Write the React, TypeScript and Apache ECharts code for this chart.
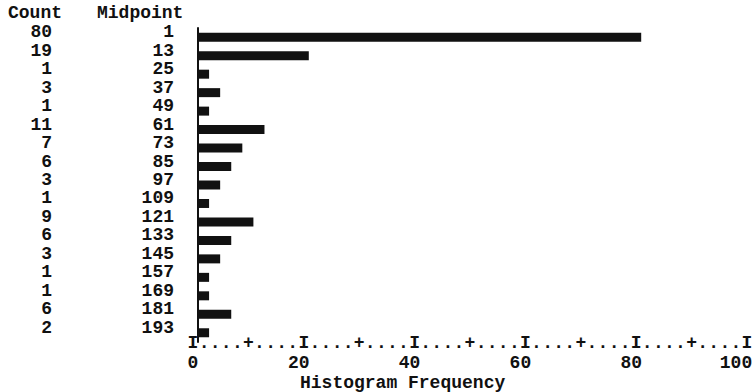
import React, { useEffect, useRef } from "react";
import * as echarts from "echarts";

const midpoints = [1, 13, 25, 37, 49, 61, 73, 85, 97, 109, 121, 133, 145, 157, 169, 181, 193];
const counts = [80, 19, 1, 3, 1, 11, 7, 6, 3, 1, 9, 6, 3, 1, 1, 6, 2];
const frequencyTicks = [0, 20, 40, 60, 80, 100];
const countHeader = "Count";
const midpointHeader = "Midpoint";
const axisTitle = "Histogram Frequency";

// In the text histogram each character cell stands for two counts (rounded up).
const barCells = counts.map((c) => Math.ceil(c / 2) * 2);

const FONT = '"Liberation Mono", "DejaVu Sans Mono", monospace';
const INK = "#111111";
const baseText = { fontFamily: FONT, fontSize: 18, fontWeight: "bold" as const, color: INK };

export default function App() {
  const ref = useRef<HTMLDivElement>(null);
  useEffect(() => {
    if (!ref.current) return;
    const chart = echarts.init(ref.current, null, { renderer: "svg" });
    const tickMax = frequencyTicks[frequencyTicks.length - 1];
    const hiddenAxis = {
      axisLine: { show: false },
      axisTick: { show: false },
      splitLine: { show: false },
    };
    chart.setOption({
      animation: false,
      backgroundColor: "#ffffff",
      grid: [
        // bars
        { left: 198, right: 2, top: 28, bottom: 50, containLabel: false, outerBoundsMode: "none" },
        // character scale line under the bars
        { left: 193, right: 7, top: 28, bottom: 50, containLabel: false, outerBoundsMode: "none" },
      ],
      xAxis: [
        {
          type: "value",
          gridIndex: 0,
          position: "bottom",
          min: frequencyTicks[0],
          max: tickMax,
          ...hiddenAxis,
          axisLabel: { show: false },
        },
        {
          type: "value",
          gridIndex: 1,
          position: "bottom",
          min: frequencyTicks[0],
          max: tickMax,
          interval: 2,
          ...hiddenAxis,
          axisLabel: {
            ...baseText,
            lineHeight: 14,
            margin: 1,
            verticalAlign: "middle",
            showMinLabel: true,
            showMaxLabel: true,
            formatter: (v: number) => (v % 20 === 0 ? "I" : v % 10 === 0 ? "+" : "."),
          },
        },
        {
          type: "value",
          gridIndex: 1,
          position: "bottom",
          min: frequencyTicks[0],
          max: tickMax,
          interval: frequencyTicks[1] - frequencyTicks[0],
          ...hiddenAxis,
          axisLabel: {
            ...baseText,
            lineHeight: 14,
            margin: 21,
            verticalAlign: "middle",
            showMinLabel: true,
            showMaxLabel: true,
            formatter: (v: number) =>
              v === frequencyTicks[0] ? `{z|${v}}` : v === tickMax ? `{e|${v}}` : `{n|${v}}`,
            rich: {
              z: { ...baseText, lineHeight: 14 },
              n: { ...baseText, lineHeight: 14, padding: [0, 10, 0, 0] },
              e: { ...baseText, lineHeight: 14, padding: [0, 22, 0, 0] },
            },
          },
        },
      ],
      yAxis: [
        {
          type: "category",
          gridIndex: 0,
          position: "left",
          inverse: true,
          data: midpoints.map(String),
          offset: 6,
          axisLine: { show: true, lineStyle: { color: INK, width: 2 } },
          axisTick: { show: false },
          axisLabel: {
            ...baseText,
            interval: 0,
            margin: 18,
            verticalAlign: "bottom",
            lineHeight: 10,
          },
        },
        {
          type: "category",
          gridIndex: 0,
          position: "left",
          inverse: true,
          data: midpoints.map(String),
          offset: 146,
          axisLine: { show: false },
          axisTick: { show: false },
          axisLabel: {
            ...baseText,
            interval: 0,
            margin: 0,
            verticalAlign: "bottom",
            lineHeight: 10,
            formatter: (_v: string, i: number) => String(counts[i]),
          },
        },
        {
          type: "category",
          gridIndex: 1,
          inverse: true,
          data: midpoints.map(String),
          show: false,
        },
      ],
      graphic: [
        {
          type: "text",
          x: 8,
          y: 13,
          style: { text: countHeader, ...baseText, lineHeight: 12, verticalAlign: "middle", fill: INK },
        },
        {
          type: "text",
          x: 97,
          y: 13,
          style: { text: midpointHeader, ...baseText, lineHeight: 12, verticalAlign: "middle", fill: INK },
        },
        {
          type: "text",
          x: 300,
          y: 383,
          style: { text: axisTitle, ...baseText, lineHeight: 14, verticalAlign: "middle", fill: INK },
        },
      ],
      series: [
        {
          type: "bar",
          xAxisIndex: 0,
          yAxisIndex: 0,
          data: barCells,
          barWidth: 9,
          itemStyle: { color: INK },
        },
      ],
    });
    return () => chart.dispose();
  }, []);
  return (
    <div
      ref={ref}
      style={{ position: "absolute", left: 0, top: 0, width: 754, height: 392, background: "#fff" }}
    />
  );
}
